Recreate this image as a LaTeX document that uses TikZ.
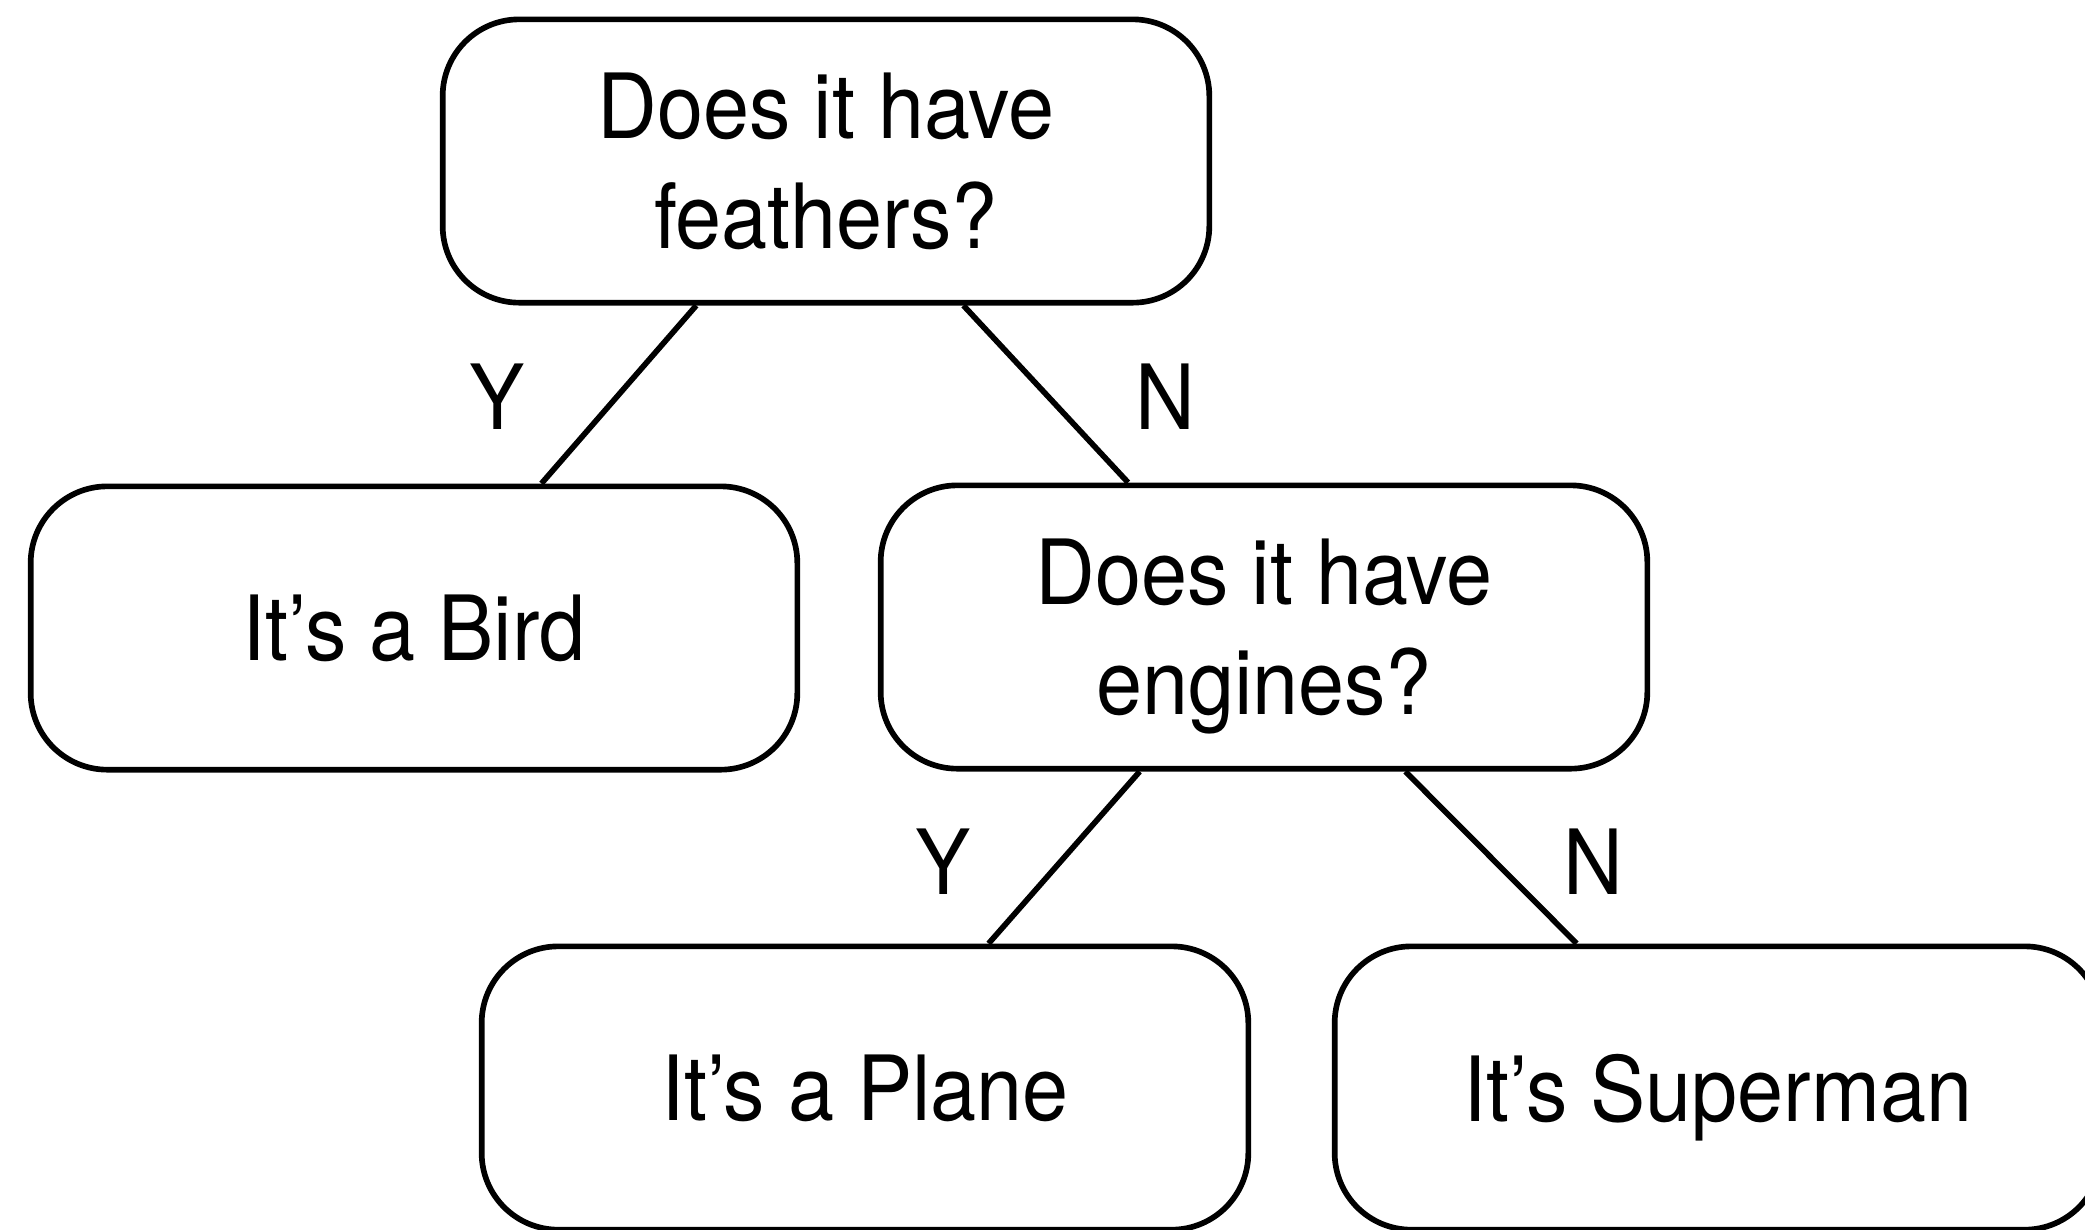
\documentclass[tikz,border=0pt]{standalone}
\usepackage{fontspec}
\setmainfont{TeX Gyre Heros}[FakeStretch=0.92]
\usetikzlibrary{calc}

\begin{document}
\begin{tikzpicture}[x=0.3pt,y=-0.3pt,line width=1.7pt,
  box/.style={draw,rounded corners=23pt,minimum width=230pt,minimum height=85pt,
    inner sep=0pt,align=center,text depth=0pt,font=\fontsize{27}{33}\selectfont},
  lbl/.style={inner sep=0pt,text depth=0pt,font=\fontsize{27}{33}\selectfont}]
\useasboundingbox (0,0) rectangle (2085,1229);

% decision and answer boxes
\node[box] (q1)    at (826,161)   {Does it have\\feathers?};
\node[box] (bird)  at (414,628)   {It’s a Bird};
\node[box] (q2)    at (1264,627)  {Does it have\\engines?};
\node[box] (plane) at (865,1088)  {It’s a Plane};
\node[box] (super) at (1718,1088) {It’s Superman};

% branches
\draw ($(q1.south west)!0.332!(q1.south east)$) -- ($(bird.north west)!0.665!(bird.north east)$);
\draw ($(q1.south west)!0.678!(q1.south east)$) -- ($(q2.north west)!0.324!(q2.north east)$);
\draw ($(q2.south west)!0.339!(q2.south east)$) -- ($(plane.north west)!0.660!(plane.north east)$);
\draw ($(q2.south west)!0.683!(q2.south east)$) -- ($(super.north west)!0.317!(super.north east)$);

% branch labels
\node[lbl] (y1) at (497,397)  {Y};
\node[lbl] (n1) at (1165,397) {N};
\node[lbl] (y2) at (943,862)  {Y};
\node[lbl] (n2) at (1593,862) {N};
\end{tikzpicture}
\end{document}
